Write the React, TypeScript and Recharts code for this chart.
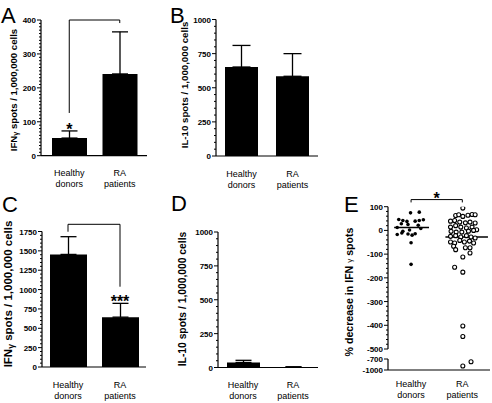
import type { ReactNode } from "react"
import {
  Bar,
  BarChart,
  ErrorBar,
  ReferenceDot,
  ReferenceLine,
  Scatter,
  ScatterChart,
  XAxis,
  YAxis,
} from "recharts"

const FONT = "'Liberation Sans', Arial, Helvetica, sans-serif"
const INK = "#000"
const AXW = 1.2

const GROUPS = ["Healthy donors", "RA patients"]

// A: IFNγ spots / 10^6 cells (mean, SEM)
const A_MEAN = [52, 241]
const A_SEM = [21, 124]
const A_TICKS = [0, 100, 200, 300, 400]
// B: IL-10
const B_MEAN = [652, 584]
const B_SEM = [158, 166]
const B_TICKS = [0, 250, 500, 750, 1000]
// C: IFNγ
const C_MEAN = [1454, 644]
const C_SEM = [229, 178]
const C_TICKS = [0, 250, 500, 750, 1000, 1250, 1500, 1750]
// D: IL-10
const D_MEAN = [37, 4]
const D_SEM = [16, 1]
const D_TICKS = [0, 250, 500, 750, 1000]

// E: % decrease in IFNγ spots, single donors (value, horizontal jitter)
const E_HD = [77, 74, 46, 42, 38, 39, 42, 45, 28, 25, 22, 12, 8, 2, -4, -11, -15, -14, -17, -20, -52, -143]
const E_HD_JIT = [0.16, -0.01, -0.24, -0.16, -0.08, 0.08, 0.16, 0.24, -0.19, -0.06, 0.14, -0.27, 0.19, -0.03, -0.16, -0.18, -0.06, 0.08, -0.27, 0.02, 0, 0]
const E_RA = [
  94, 63, 66, 59, 64, 67, 66, 39, 42, 35, 32, 35, 31, 14, 20, 14, 10, 14, 3, -4, -7, -7, -3, 0,
  -25, -22, -28, -22, -28, -32, -49, -53, -42, -49, -45, -53, -67, -81, -73, -73, -95, -112,
  -155, -176, -403, -447, -775, -890,
]
const E_RA_JIT = [
  0.01, -0.13, -0.07, 0.01, 0.11, 0.19, 0.25, -0.23, -0.15, -0.05, 0.06, 0.15, 0.25, -0.23, -0.13,
  -0.03, 0.08, 0.19, 0.28, -0.22, -0.12, -0.01, 0.12, 0.22, -0.23, -0.13, -0.03, 0.08, 0.17, 0.25,
  -0.23, -0.15, -0.05, 0.04, 0.14, 0.22, -0.17, -0.13, 0.06, 0.15, 0.15, 0.01, -0.15, 0.01, 0.01,
  0.01, 0.17, 0.01,
]
const E_MEDIAN = [12, -28]
const E_TICKS_TOP = [100, 0, -100, -200, -300, -400, -500]
const E_TICKS_LOW = [-700, -1000]

const range = (lo: number, hi: number, step: number) => {
  const out: number[] = []
  for (let v = lo; v <= hi + 1e-9; v += step) out.push(v)
  return out
}

function YTick(props: any) {
  const { x, y, payload, majors } = props
  const major = majors.includes(payload.value)
  return (
    <g>
      <line x1={x - (major ? 4 : 2)} x2={x} y1={y} y2={y} stroke={INK} strokeWidth={1} />
      {major && (
        <text x={x - 5} y={y} dy={3} textAnchor="end" fontSize={8} fontWeight="bold" fontFamily={FONT} fill={INK}>
          {payload.value}
        </text>
      )}
    </g>
  )
}

function XTick(props: any) {
  const { x, y, payload, dy } = props
  const name = typeof payload.value === "number" ? GROUPS[payload.value - 1] : payload.value
  const [l1, l2] = String(name).split(" ")
  return (
    <text x={x} y={y} textAnchor="middle" fontSize={9} fontFamily={FONT} fill={INK}>
      <tspan x={x} dy={dy}>{l1}</tspan>
      <tspan x={x} dy={11}>{l2}</tspan>
    </text>
  )
}

const star = (txt: string) => (p: any) => (
  <text x={p.cx} y={p.cy} textAnchor="middle" fontSize={16} fontWeight="bold" fontFamily={FONT} fill={INK}>
    {txt}
  </text>
)

type BarPanelProps = {
  left: number
  top: number
  width: number
  height: number
  margin: { top: number; right: number; bottom: number; left: number }
  yWidth: number
  xHeight: number
  domain: [number, number]
  ticks: number[]
  step: number
  mean: number[]
  sem: number[]
  pad: { left: number; right: number }
  barSize: number
  cap: number
  children?: ReactNode
}

function BarPanel(p: BarPanelProps) {
  const rows = GROUPS.map((g, i) => ({ group: g, mean: p.mean[i], err: [0, p.sem[i]] }))
  const all = range(p.domain[0], p.domain[1], p.step)
  return (
    <div style={{ position: "absolute", left: p.left, top: p.top }}>
      <BarChart width={p.width} height={p.height} data={rows} margin={p.margin}>
        <XAxis
          dataKey="group"
          padding={p.pad}
          height={p.xHeight}
          tickLine={false}
          tickSize={0}
          tickMargin={0}
          interval={0}
          axisLine={{ stroke: INK, strokeWidth: AXW }}
          tick={(t: any) => <XTick {...t} dy={20.5} />}
        />
        <YAxis
          type="number"
          domain={p.domain}
          ticks={all}
          interval={0}
          width={p.yWidth}
          tickLine={false}
          tickSize={0}
          tickMargin={0}
          allowDataOverflow
          axisLine={{ stroke: INK, strokeWidth: AXW }}
          tick={(t: any) => <YTick {...t} majors={p.ticks} />}
        />
        <Bar dataKey="mean" fill={INK} barSize={p.barSize} isAnimationActive={false}>
          <ErrorBar dataKey="err" direction="y" width={p.cap} stroke={INK} strokeWidth={1.3} isAnimationActive={false} />
        </Bar>
        {p.children}
      </BarChart>
    </div>
  )
}

const seg = (x1: any, y1: number, x2: any, y2: number) => [
  { x: x1, y: y1 },
  { x: x2, y: y2 },
]

function PanelE() {
  const hd = E_HD.map((v, i) => ({ x: 1 + E_HD_JIT[i], y: v }))
  const ra = E_RA.map((v, i) => ({ x: 2 + E_RA_JIT[i], y: v }))
  const dom: [number, number] = [0.55, 2.54]
  const dot = (p: any) => <circle cx={p.cx} cy={p.cy} r={1.8} fill={INK} />
  const ring = (p: any) => <circle cx={p.cx} cy={p.cy} r={2} fill="#fff" stroke={INK} strokeWidth={1.1} />
  const yAxisCommon = {
    type: "number" as const,
    dataKey: "y",
    width: 58,
    interval: 0 as const,
    tickLine: false,
    tickSize: 0,
    tickMargin: 0,
    allowDataOverflow: true,
    axisLine: { stroke: INK, strokeWidth: AXW },
  }
  return (
    <>
      <div style={{ position: "absolute", left: 330, top: 185 }}>
        <ScatterChart width={162} height={218} margin={{ top: 21.7, right: 2, bottom: 54, left: 0 }}>
          <XAxis type="number" dataKey="x" domain={dom} hide height={0} allowDataOverflow />
          <YAxis
            {...yAxisCommon}
            domain={[-500, 100]}
            ticks={range(-500, 100, 20)}
            tick={(t: any) => <YTick {...t} majors={E_TICKS_TOP} />}
          />
          <Scatter data={hd.filter((d) => d.y >= -500)} shape={dot} isAnimationActive={false} />
          <Scatter data={ra.filter((d) => d.y >= -500)} shape={ring} isAnimationActive={false} />
          <ReferenceLine segment={seg(0.67, E_MEDIAN[0], 1.35, E_MEDIAN[0])} stroke={INK} strokeWidth={1.5} />
          <ReferenceLine segment={seg(1.67, E_MEDIAN[1], 2.5, E_MEDIAN[1])} stroke={INK} strokeWidth={1.5} />
          <ReferenceLine segment={seg(1, 130, 2, 130)} stroke={INK} strokeWidth={1} ifOverflow="visible" />
          <ReferenceLine segment={seg(1, 130, 1, 118)} stroke={INK} strokeWidth={1} ifOverflow="visible" />
          <ReferenceLine segment={seg(2, 130, 2, 118)} stroke={INK} strokeWidth={1} ifOverflow="visible" />
          <ReferenceDot x={1.5} y={110} r={0} ifOverflow="visible" shape={star("*")} />
        </ScatterChart>
      </div>
      <div style={{ position: "absolute", left: 330, top: 350 }}>
        <ScatterChart width={162} height={53} margin={{ top: 9, right: 2, bottom: 0, left: 0 }}>
          <XAxis
            type="number"
            dataKey="x"
            domain={dom}
            ticks={[1, 2]}
            interval={0}
            height={33}
            allowDataOverflow
            tickLine={false}
            tickSize={0}
            tickMargin={0}
            axisLine={{ stroke: INK, strokeWidth: AXW }}
            tick={(t: any) => <XTick {...t} dy={16.5} />}
          />
          <YAxis
            {...yAxisCommon}
            domain={[-1000, -700]}
            ticks={E_TICKS_LOW}
            tick={(t: any) => <YTick {...t} majors={E_TICKS_LOW} />}
          />
          <Scatter data={ra.filter((d) => d.y <= -700)} shape={ring} isAnimationActive={false} />
        </ScatterChart>
      </div>
    </>
  )
}

function Title({ x, y, size, children }: { x: number; y: number; size: number; children: ReactNode }) {
  return (
    <text
      x={x}
      y={y}
      transform={`rotate(-90 ${x} ${y})`}
      textAnchor="middle"
      dominantBaseline="central"
      fontSize={size}
      fontWeight="bold"
      fontFamily={FONT}
      fill={INK}
    >
      {children}
    </text>
  )
}

const ifng = (size: number) => (
  <>
    IFN
    <tspan fontSize={size * 0.75} dy={size * 0.25}>γ</tspan>
    <tspan dy={-size * 0.25}> spots / 1,000,000 cells</tspan>
  </>
)

export default function App() {
  return (
    <div style={{ position: "absolute", left: 0, top: 0, width: 492, height: 403, background: "#fff", fontFamily: FONT }}>
      <BarPanel
        left={0} top={0} width={150} height={195}
        margin={{ top: 20, right: 3, bottom: 0, left: 0 }}
        yWidth={41} xHeight={39.3}
        domain={[0, 400]} ticks={A_TICKS} step={10}
        mean={A_MEAN} sem={A_SEM}
        pad={{ left: 3, right: 2 }} barSize={35} cap={8}
      >
        <ReferenceLine segment={seg(GROUPS[0], 400, GROUPS[1], 400)} stroke={INK} strokeWidth={1} ifOverflow="visible" />
        <ReferenceLine segment={seg(GROUPS[0], 400, GROUPS[0], 126)} stroke={INK} strokeWidth={1} ifOverflow="visible" />
        <ReferenceLine segment={seg(GROUPS[1], 400, GROUPS[1], 391)} stroke={INK} strokeWidth={1} ifOverflow="visible" />
        <ReferenceDot x={GROUPS[0]} y={60} r={0} ifOverflow="visible" shape={star("*")} />
      </BarPanel>

      <BarPanel
        left={170} top={0} width={150} height={195}
        margin={{ top: 19.5, right: 2, bottom: 0, left: 0 }}
        yWidth={46} xHeight={39}
        domain={[0, 1000]} ticks={B_TICKS} step={50}
        mean={B_MEAN} sem={B_SEM}
        pad={{ left: 0, right: 0 }} barSize={33} cap={9}
      />

      <BarPanel
        left={0} top={195} width={150} height={208}
        margin={{ top: 36.5, right: 4, bottom: 0, left: 0 }}
        yWidth={42} xHeight={36}
        domain={[0, 1750]} ticks={C_TICKS} step={50}
        mean={C_MEAN} sem={C_SEM}
        pad={{ left: 0, right: 0 }} barSize={37} cap={8}
      >
        <ReferenceLine segment={seg(GROUPS[0], 1843, GROUPS[1], 1843)} stroke={INK} strokeWidth={1} ifOverflow="visible" />
        <ReferenceLine segment={seg(GROUPS[0], 1843, GROUPS[0], 1747)} stroke={INK} strokeWidth={1} ifOverflow="visible" />
        <ReferenceLine segment={seg(GROUPS[1], 1843, GROUPS[1], 1037)} stroke={INK} strokeWidth={1} ifOverflow="visible" />
        <ReferenceDot x={GROUPS[1]} y={780} r={0} ifOverflow="visible" shape={star("***")} />
      </BarPanel>

      <BarPanel
        left={170} top={195} width={150} height={208}
        margin={{ top: 37, right: 2, bottom: 0, left: 0 }}
        yWidth={48} xHeight={35.5}
        domain={[0, 1000]} ticks={D_TICKS} step={50}
        mean={D_MEAN} sem={D_SEM}
        pad={{ left: 0, right: 0 }} barSize={33} cap={8}
      />

      <PanelE />

      <svg width={492} height={403} style={{ position: "absolute", left: 0, top: 0, pointerEvents: "none" }}>
        <g fontFamily={FONT} fontSize={22} fill={INK}>
          <text x={1} y={23}>A</text>
          <text x={170} y={23}>B</text>
          <text x={2} y={212}>C</text>
          <text x={171} y={211}>D</text>
          <text x={344} y={212}>E</text>
        </g>
        <Title x={13} y={90} size={9.6}>{ifng(9.6)}</Title>
        <Title x={184} y={85} size={9.7}>IL-10 spots / 1,000,000 cells</Title>
        <Title x={8} y={294} size={11.5}>{ifng(11.5)}</Title>
        <Title x={182} y={299} size={10.3}>IL-10 spots / 1,000,000 cells</Title>
        <Title x={349} y={292} size={10.6}>
          % decrease in IFN <tspan fontWeight="normal" fontSize={8}>γ</tspan> spots
        </Title>
      </svg>
    </div>
  )
}
